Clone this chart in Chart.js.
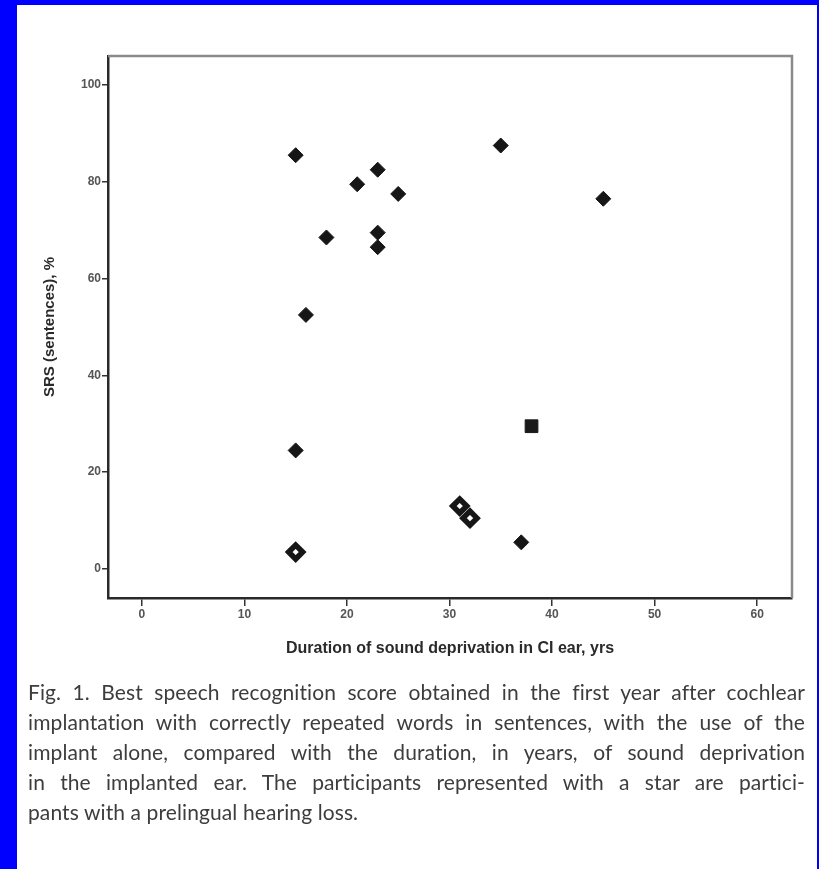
<!DOCTYPE html>
<html>
<head>
<meta charset="utf-8">
<script src="https://cdn.jsdelivr.net/npm/chart.js@4.4.1/dist/chart.umd.min.js"></script>
<style>
  html, body { margin: 0; padding: 0; }
  body { width: 819px; height: 869px; background: #0000ff; position: relative; overflow: hidden; }
  #sheet { position: absolute; left: 17px; top: 5px; right: 2px; bottom: 0; background: #fff; }
  #wrap { position: absolute; left: 0; top: 0; width: 819px; height: 869px; }
  #caption {
    position: absolute; left: 28px; top: 677px; width: 777px;
    font-family: Lato, "Open Sans", sans-serif; font-size: 21px; line-height: 30px;
    color: #3d3d3d; letter-spacing: 0.1px;
  }
  #caption span { display: block; text-align: justify; text-align-last: justify; white-space: nowrap; }
  #caption span.last { text-align-last: left; }
</style>
</head>
<body>
<div id="sheet"></div>
<div id="wrap"><canvas id="scatter" width="819" height="869"></canvas></div>
<div id="caption">
  <span>Fig. 1. Best speech recognition score obtained in the first year after cochlear</span>
  <span>implantation with correctly repeated words in sentences, with the use of the</span>
  <span>implant alone, compared with the duration, in years, of sound deprivation</span>
  <span>in the implanted ear. The participants represented with a star are partici-</span>
  <span class="last">pants with a prelingual hearing loss.</span>
</div>
<script>
document.addEventListener('DOMContentLoaded', function() {

  // duration of sound deprivation (yrs) and SRS score (%)
  var diamondYears = [15, 15, 16, 18, 21, 23, 23, 23, 25, 35, 45, 37];
  var diamondScores = [85.5, 24.5, 52.5, 68.5, 79.5, 82.5, 69.5, 66.5, 77.5, 87.5, 76.5, 5.5];
  var starYears = [15, 31, 32];
  var starScores = [3.5, 13, 10.5];
  var squareYears = [38];
  var squareScores = [29.5];

  var xTicks = [0, 10, 20, 30, 40, 50, 60];
  var yTicks = [0, 20, 40, 60, 80, 100];

  function toPoints(xs, ys) {
    return xs.map(function(x, i) { return { x: x, y: ys[i] }; });
  }

  // top and right edges of the frame are lighter
  var frameEdges = {
    id: 'frameEdges',
    beforeDatasetsDraw: function(chart) {
      var a = chart.chartArea, ctx = chart.ctx;
      ctx.save();
      ctx.strokeStyle = '#8a8a8a';
      ctx.lineWidth = 2.5;
      ctx.beginPath();
      ctx.moveTo(a.left, a.top);
      ctx.lineTo(a.right, a.top);
      ctx.lineTo(a.right, a.bottom);
      ctx.stroke();
      ctx.restore();
    }
  };

  var tickFont = { family: 'Arial, "Liberation Sans", sans-serif', size: 12, weight: 'bold' };

  var ctx = document.getElementById('scatter').getContext('2d');
  new Chart(ctx, {
    type: 'scatter',
    data: {
      datasets: [{
        label: 'postlingual',
        data: toPoints(diamondYears, diamondScores),
        pointStyle: 'rectRot',
        pointRadius: 7.5,
        backgroundColor: '#161616',
        borderColor: '#161616',
        borderWidth: 1
      }, {
        label: 'prelingual',
        data: toPoints(starYears, starScores),
        pointStyle: 'rectRot',
        pointRadius: 7,
        backgroundColor: '#ffffff',
        borderColor: '#161616',
        borderWidth: 5.5
      }, {
        label: 'other',
        data: toPoints(squareYears, squareScores),
        pointStyle: 'rect',
        pointRadius: 9,
        backgroundColor: '#1a1a1a',
        borderColor: '#1a1a1a',
        borderWidth: 1
      }]
    },
    options: {
      responsive: false,
      animation: false,
      layout: { padding: { top: 56, right: 27, left: 0, bottom: 0 } },
      plugins: {
        legend: { display: false },
        tooltip: { enabled: false }
      },
      scales: {
        x: {
          type: 'linear',
          min: -3.3,
          max: 63.4,
          afterBuildTicks: function(s) { s.ticks = xTicks.map(function(v) { return { value: v }; }); },
          afterFit: function(s) { s.height = 271; },
          grid: { drawOnChartArea: false, drawTicks: true, tickLength: 8, color: '#333', lineWidth: 1.5 },
          border: { display: true, color: '#2a2a2a', width: 2.5 },
          ticks: { color: '#555', font: tickFont, padding: 1, maxRotation: 0 },
          title: {
            display: true,
            text: 'Duration of sound deprivation in CI ear, yrs',
            color: '#2a2a2a',
            font: { family: 'Arial, "Liberation Sans", sans-serif', size: 16, weight: 'bold' },
            padding: { top: 0, bottom: 211 }
          }
        },
        y: {
          type: 'linear',
          min: -6,
          max: 106,
          afterBuildTicks: function(s) { s.ticks = yTicks.map(function(v) { return { value: v }; }); },
          afterFit: function(s) { s.width = 108; },
          grid: { drawOnChartArea: false, drawTicks: true, tickLength: 6, color: '#333', lineWidth: 1.5 },
          border: { display: true, color: '#2a2a2a', width: 2.5 },
          ticks: { color: '#555', font: tickFont, padding: 1 },
          title: {
            display: true,
            text: 'SRS (sentences), %',
            color: '#2a2a2a',
            font: { family: 'Arial, "Liberation Sans", sans-serif', size: 15, weight: 'bold' },
            padding: { top: 41, bottom: 0 }
          }
        }
      }
    },
    plugins: [frameEdges]
  });
});
</script>
</body>
</html>
